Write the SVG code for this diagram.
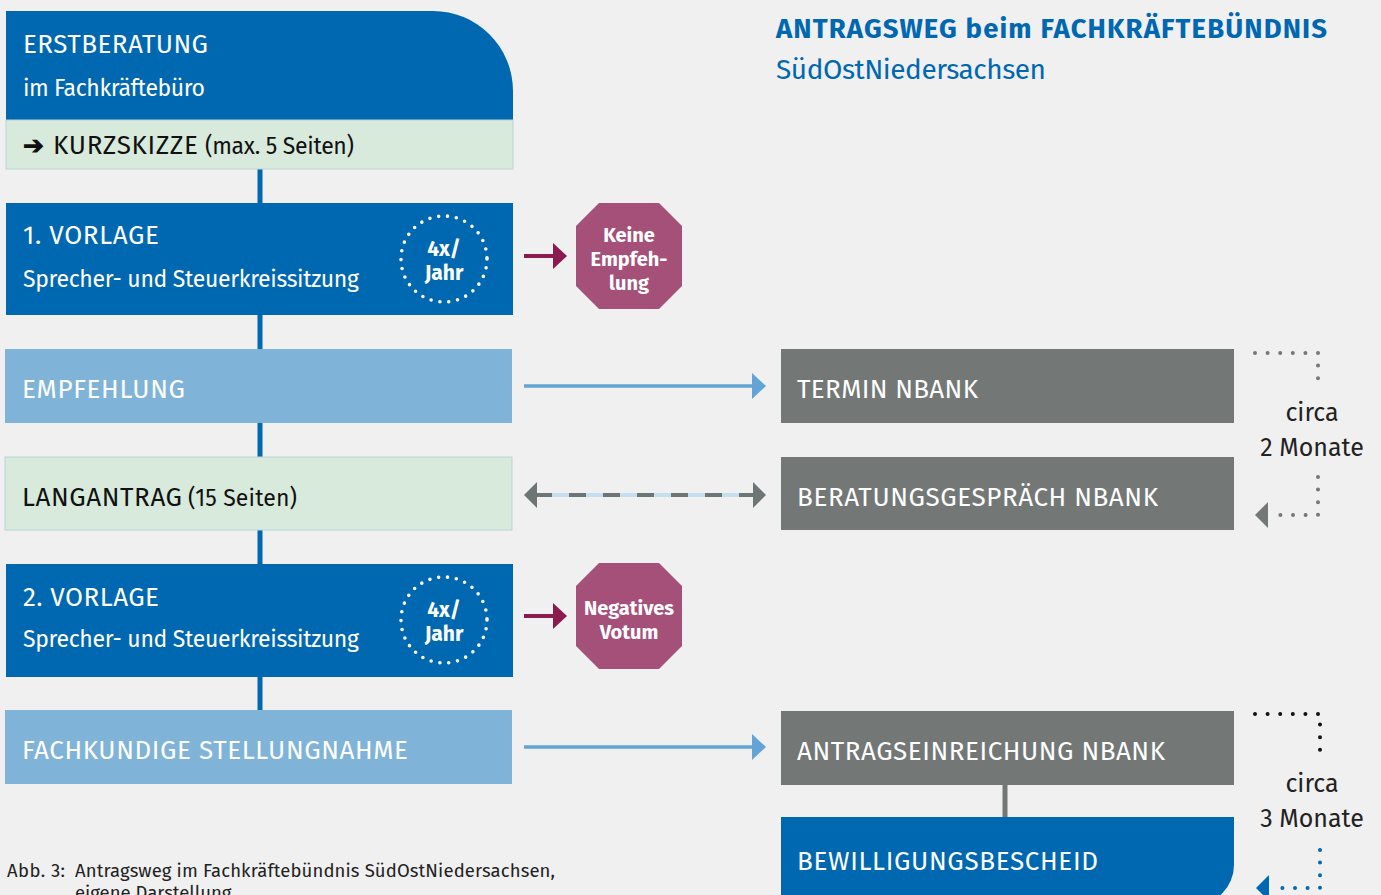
<svg xmlns="http://www.w3.org/2000/svg" width="1381" height="895" viewBox="0 0 1381 895">
<defs>
<style>
text{font-family:"Fira Sans","Noto Sans","Open Sans","Liberation Sans",sans-serif;}
.w{fill:#ffffff;}
.k{fill:#111111;}
.h{font-size:26px;}
.s{font-size:23px;}
.oct{fill:#a55079;}
.octt{fill:#ffffff;font-size:20px;font-weight:bold;text-anchor:middle;}
.dark{fill:#0067b1;}
.light{fill:#80b3d8;}
.green{fill:#d8eadb;stroke:#b8d3d8;stroke-width:1;}
.gray{fill:#737877;}
.ring{fill:none;stroke:#ffffff;stroke-width:3.6;stroke-linecap:round;stroke-dasharray:0 8.95;}
.ringt{fill:#ffffff;font-size:21px;font-weight:bold;text-anchor:middle;}
.dots{fill:none;stroke-width:4;stroke-linecap:round;stroke-dasharray:0 12.6;}
.circa{fill:#222222;font-size:25px;text-anchor:middle;}
</style>
</defs>
<rect width="1381" height="895" fill="#f0f0f0"/>

<g id="title">
<text x="776" y="38" font-size="27.5" font-weight="bold" fill="#0067b1" textLength="551">ANTRAGSWEG beim FACHKRÄFTEBÜNDNIS</text>
<text x="776" y="79" font-size="28" fill="#0067b1" textLength="270">SüdOstNiedersachsen</text>
</g>

<g id="connectors">
<rect x="257.5" y="169" width="5" height="541" fill="#0067b1"/>
<rect x="1002.5" y="785" width="5" height="32" fill="#737877"/>
<line x1="524" y1="256" x2="554" y2="256" stroke="#8b1a4e" stroke-width="4"/>
<polygon points="553,243 567,256 553,269" fill="#8b1a4e"/>
<line x1="524" y1="616" x2="554" y2="616" stroke="#8b1a4e" stroke-width="4"/>
<polygon points="553,603 567,616 553,629" fill="#8b1a4e"/>
<line x1="524" y1="386" x2="754" y2="386" stroke="#62a4d5" stroke-width="3.5"/>
<polygon points="752,373 766,386 752,399" fill="#62a4d5"/>
<line x1="524" y1="747" x2="754" y2="747" stroke="#62a4d5" stroke-width="3.5"/>
<polygon points="752,734 766,747 752,760" fill="#62a4d5"/>
<line x1="536" y1="495" x2="754" y2="495" stroke="#c6dff0" stroke-width="4"/>
<line x1="535" y1="495" x2="756" y2="495" stroke="#6e7575" stroke-width="4" stroke-dasharray="17 17"/>
<polygon points="537,482 524,495 537,508" fill="#6e7575"/>
<polygon points="753,482 766,495 753,508" fill="#6e7575"/>
<polyline class="dots" points="1255,353 1318,353 1318,380" stroke="#737877"/>
<polyline class="dots" points="1318,477 1318,515 1278,515" stroke="#737877"/>
<polygon points="1268,502 1255,515 1268,528" fill="#737877"/>
<polyline class="dots" points="1255,714 1320,714 1320,755" stroke="#111111"/>
<polyline class="dots" points="1320,850 1320,888 1280,888" stroke="#0067b1"/>
<polygon points="1269,875 1256,888 1269,901" fill="#0067b1"/>
</g>

<g id="erstberatung">
<path d="M6,11 H433 A80,80 0 0 1 513,91 V120 H6 Z" class="dark"/>
<text x="23" y="53" class="w h" textLength="185">ERSTBERATUNG</text>
<text x="23" y="96" class="w s" textLength="182">im Fachkräftebüro</text>
</g>

<g id="kurzskizze">
<rect x="6" y="120" width="507" height="49" class="green"/>
<text x="23" y="154" class="k"><tspan font-size="25" font-weight="bold">➔</tspan><tspan x="53" font-size="26" textLength="145">KURZSKIZZE</tspan><tspan x="205" font-size="23" textLength="149">(max. 5 Seiten)</tspan></text>
</g>

<g id="vorlage1">
<rect x="6" y="203" width="507" height="112" class="dark"/>
<text x="23" y="244" class="w h" textLength="136">1. VORLAGE</text>
<text x="23" y="287" class="w s" textLength="336">Sprecher- und Steuerkreissitzung</text>
<circle cx="444" cy="259" r="43" class="ring"/>
<text x="444" y="256" class="ringt">4x/</text>
<text x="444" y="280" class="ringt">Jahr</text>
</g>

<g id="keine-empfehlung">
<polygon points="599,203 659,203 682,226 682,286 659,309 599,309 576,286 576,226" class="oct"/>
<text x="629" y="242" class="octt">Keine</text>
<text x="629" y="266" class="octt">Empfeh-</text>
<text x="629" y="290" class="octt">lung</text>
</g>

<g id="empfehlung">
<rect x="5" y="349" width="507" height="74" class="light"/>
<text x="22" y="398" class="w h" textLength="163">EMPFEHLUNG</text>
</g>

<g id="termin-nbank">
<rect x="781" y="349" width="453" height="74" class="gray"/>
<text x="797" y="398" class="w h" textLength="181">TERMIN NBANK</text>
</g>

<g id="dauer-2">
<text x="1312" y="421" class="circa">circa</text>
<text x="1312" y="456" class="circa">2 Monate</text>
</g>

<g id="langantrag">
<rect x="5" y="457" width="507" height="73" class="green" stroke="none"/>
<text x="22" y="506" class="k"><tspan font-size="26" textLength="160">LANGANTRAG</tspan><tspan x="188" font-size="23" textLength="109">(15 Seiten)</tspan></text>
</g>

<g id="beratungsgespraech">
<rect x="781" y="457" width="453" height="73" class="gray"/>
<text x="797" y="506" class="w h" textLength="361">BERATUNGSGESPRÄCH NBANK</text>
</g>

<g id="vorlage2">
<rect x="6" y="564" width="507" height="113" class="dark"/>
<text x="23" y="606" class="w h" textLength="136">2. VORLAGE</text>
<text x="23" y="647" class="w s" textLength="336">Sprecher- und Steuerkreissitzung</text>
<circle cx="444" cy="620" r="43" class="ring"/>
<text x="444" y="617" class="ringt">4x/</text>
<text x="444" y="641" class="ringt">Jahr</text>
</g>

<g id="negatives-votum">
<polygon points="599,563 659,563 682,586 682,646 659,669 599,669 576,646 576,586" class="oct"/>
<text x="629" y="615" class="octt">Negatives</text>
<text x="629" y="639" class="octt">Votum</text>
</g>

<g id="stellungnahme">
<rect x="5" y="710" width="507" height="74" class="light"/>
<text x="22" y="759" class="w h" textLength="386">FACHKUNDIGE STELLUNGNAHME</text>
</g>

<g id="antragseinreichung">
<rect x="781" y="711" width="453" height="74" class="gray"/>
<text x="797" y="760" class="w h" textLength="368">ANTRAGSEINREICHUNG NBANK</text>
</g>

<g id="dauer-3">
<text x="1312" y="792" class="circa">circa</text>
<text x="1312" y="827" class="circa">3 Monate</text>
</g>

<g id="bewilligungsbescheid">
<path d="M781,817 H1234 V865 A40,40 0 0 1 1194,905 H781 Z" class="dark"/>
<text x="797" y="870" class="w h" textLength="301">BEWILLIGUNGSBESCHEID</text>
</g>

<g id="caption">
<text x="7" y="877" font-size="18.5" fill="#222222"><tspan textLength="58">Abb. 3:</tspan><tspan x="75" textLength="480">Antragsweg im Fachkräftebündnis SüdOstNiedersachsen,</tspan></text>
<text x="75" y="899" font-size="18.5" fill="#222222">eigene Darstellung</text>
</g>
</svg>
